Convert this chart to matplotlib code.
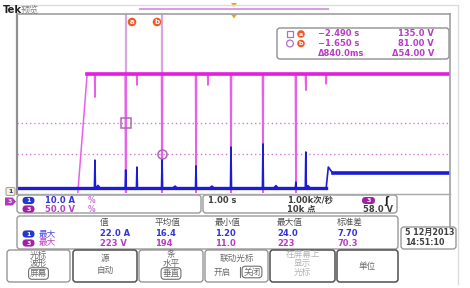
import numpy as np
import matplotlib
matplotlib.use("Agg")
import matplotlib.pyplot as plt
from matplotlib.patches import FancyBboxPatch, Rectangle, Circle, Polygon

plt.rcParams['font.family'] = ['DejaVu Sans', 'Noto Sans CJK SC']

# ---------------- data ----------------
time_span = [-5.0, 5.0]                 # s  (1.00 s/div, 10 div)
v_level = 220.0                         # ch3 high level, V
v_rise = [-3.61, -3.38]                 # ramp start / end, s
v_dip_t = [-2.49, -1.65, -0.866, -0.058, 0.68, 1.44]
v_dip_v = [0.0, 0.0, 0.0, 0.0, 0.0, 0.0]
v_glitch_t = [-3.20, -2.23, -0.59, 1.67, 2.14]
v_glitch_v = [180.0, 201.0, 201.0, 192.0, 203.0]

i_base = 1.3                            # ch1 idle current, A
i_spike_t = [-3.20, -2.49, -2.23, -1.65, -0.866, -0.058, 0.68, 1.44, 1.67]
i_spike_a = [13.8, 9.4, 10.7, 13.8, 11.2, 19.6, 21.0, 4.0, 17.4]
i_bump_t = [-3.13, -1.35, -0.50, 0.98, 1.72]
i_bump_a = [2.5, 2.2, 2.2, 2.4, 2.4]
i_step_t = 2.14
i_step_peak = 10.7
i_step_level = 8.0

cursor_t = [-2.490, -1.650]
cursor_v = [135.0, 81.00]
cursor_time_txt = ["\u22122.490 s", "\u22121.650 s", "\u0394840.0ms"]
cursor_volt_txt = ["135.0 V", "81.00 V", "\u039454.00 V"]

ch_scale = ["10.0 A", "50.0 V"]
timebase = ["1.00 s", "1.00k次/秒", "10k 点"]
trig_level = "58.0 V"
meas_header = ["值", "平均值", "最小值", "最大值", "标准差"]
meas_ch1 = ["22.0 A", "16.4", "1.20", "24.0", "7.70"]
meas_ch3 = ["223 V", "194", "11.0", "223", "70.3"]
date_txt = ["5 12月2013", "14:51:10"]

# ---------------- layout (pixels) ----------------
W, H = 470, 288
GL, GR, GT, GB = 17, 450, 14, 193
V_LIM = (13.06, 324.9)
I_LIM = (-0.89, 79.0)

MAG = '#e21ee0'
MAG_L = '#e860e8'
BLUE = '#1c1cd6'
CUR = '#d9a6e2'
TXT_M = '#b83cc8'
TXT_B = '#3434d8'
GRAY = '#9a9a9a'

fig = plt.figure(figsize=(W / 100, H / 100), dpi=100)

ax = fig.add_axes([GL / W, 1 - GB / H, (GR - GL) / W, (GB - GT) / H])
ax.set_xlim(*time_span)
ax.set_ylim(*V_LIM)
ax.axis('off')
ax.patch.set_alpha(0)
axc = ax.twinx()
axc.set_ylim(*I_LIM)
axc.axis('off')

# cursors
for t in cursor_t:
    ax.axvline(t, color=CUR, lw=1.6, zorder=1)
for v in cursor_v:
    ax.axhline(v, color='#d47ad4', lw=1.0, ls=(0, (1, 2)), zorder=1)

# ---- ch3 voltage trace ----
w = 0.012
vt = [time_span[0], v_rise[0], v_rise[1]]
vv = [0.0, 0.0, v_level]
ev = sorted(list(zip(v_dip_t, v_dip_v)) + list(zip(v_glitch_t, v_glitch_v)))
for t, val in ev:
    vt += [t - w, t, t + w]
    vv += [v_level, val, v_level]
vt.append(time_span[1]); vv.append(v_level)
ax.plot(vt, vv, color=MAG_L, lw=1.1, zorder=2)
ax.plot([v_rise[1], time_span[1]], [v_level, v_level], color=MAG, lw=2.6, zorder=2)

# ---- ch1 current trace ----
it = [time_span[0]]
ia = [i_base]
evc = [(t, a, w) for t, a in zip(i_spike_t, i_spike_a)] + \
      [(t, a, 0.05) for t, a in zip(i_bump_t, i_bump_a)]
for t, a, ww in sorted(evc):
    it += [t - ww, t, t + ww]
    ia += [i_base, a, i_base]
it += [i_step_t, i_step_t + 0.05, i_step_t + 0.15, time_span[1]]
ia += [i_base, i_step_peak, i_step_level, i_step_level]
axc.plot(it, ia, color=BLUE, lw=1.2, zorder=3)
axc.plot([time_span[0], i_step_t], [i_base, i_base], color=BLUE, lw=2.4, zorder=3)
axc.plot([i_step_t + 0.15, time_span[1]], [i_step_level, i_step_level], color=BLUE, lw=2.6, zorder=3)

# cursor markers
ax.plot([cursor_t[0]], [cursor_v[0]], marker='s', ms=6.5, mfc='none', mec='#b064b8', mew=1.1, zorder=4)
ax.plot([cursor_t[1]], [cursor_v[1]], marker='o', ms=6.5, mfc='none', mec='#b064b8', mew=1.1, zorder=4)

# ---------------- UI overlay ----------------
ui = fig.add_axes([0, 0, 1, 1])
ui.set_xlim(0, W)
ui.set_ylim(H, 0)
ui.axis('off')
ui.patch.set_alpha(0)
ui.set_zorder(5)


def rbox(x0, y0, x1, y1, ec=GRAY, lw=1.0, fc='none', r=3):
    ui.add_patch(FancyBboxPatch((x0, y0), x1 - x0, y1 - y0,
                                boxstyle=f"round,pad=0,rounding_size={r}",
                                ec=ec, fc=fc, lw=lw))


def pill(x, y, label, fc):
    ui.add_patch(FancyBboxPatch((x - 6, y - 3.6), 12, 7.2,
                                boxstyle="round,pad=0,rounding_size=3.6",
                                ec='none', fc=fc))
    ui.text(x, y + 0.3, label, fontsize=4.5, color='white', ha='center', va='center',
            fontweight='bold')


def txt(x, y, s, color='#404040', size=6, ha='left', weight='bold'):
    ui.text(x, y, s, fontsize=size, color=color, ha=ha, va='center', fontweight=weight)


# outer frame
ui.plot([6, 458, 458], [5, 5, 284], color='#dcdcdc', lw=1)

# header
txt(3, 10, "Tek", color='#202020', size=7.2)
txt(21, 10, "预览", color='#808080', size=6.5, weight='normal')
ui.plot([140, 328], [9, 9], color='#d6a0de', lw=1.5)
ui.add_patch(Polygon([[231, 3], [237, 3], [234, 7]], closed=True, fc='#f0a020', ec='none'))
ui.add_patch(Polygon([[231, 14.5], [237, 14.5], [234, 18.5]], closed=True, fc='#f0a020', ec='none'))

# graticule frame
ui.plot([GL, GL], [GT, 194], color='#909090', lw=1.6)
ui.plot([GL, GR], [GT, GT], color='#a0a0a0', lw=1.2)
ui.plot([GR, GR], [GT, 227], color='#a0a0a0', lw=1.2)
ui.plot([GL, GR], [194, 194], color='#a8a8a8', lw=1.0)

# cursor labels
for x, lab in [(132, 'a'), (157, 'b')]:
    ui.add_patch(Circle((x, 22), 4.3, fc='#f05a28', ec='none'))
    ui.text(x, 22.3, lab, fontsize=5, color='white', ha='center', va='center', fontweight='bold')

# cursor readout box
rbox(277, 28, 449, 59, ec='#909090', fc='white')
rows_y = [34, 43.5, 53]
ui.add_patch(Rectangle((286.5, 30.8), 6.5, 6.5, fc='none', ec='#b070c0', lw=0.9))
ui.add_patch(Circle((290, 43.5), 3.4, fc='none', ec='#b070c0', lw=0.9))
for y, lab in [(34, 'a'), (43.5, 'b')]:
    ui.add_patch(Circle((301, y), 3.8, fc='#f05a28', ec='none'))
    ui.text(301, y + 0.3, lab, fontsize=4.5, color='white', ha='center', va='center', fontweight='bold')
for y, s in zip(rows_y, cursor_time_txt):
    txt(318, y, s, color=TXT_M, size=6)
for y, s in zip(rows_y, cursor_volt_txt):
    txt(434, y, s, color=TXT_M, size=6, ha='right')

# channel markers on the left edge
ui.add_patch(FancyBboxPatch((6, 187.5), 9, 8, boxstyle="round,pad=0,rounding_size=1.5",
                            fc='#f4f2d8', ec='#a8a890', lw=0.8))
ui.text(10.5, 191.8, "1", fontsize=4.5, color='#2a2aa0', ha='center', va='center', fontweight='bold')
ui.add_patch(Polygon([[5, 197.5], [12.5, 197.5], [16, 201.5], [12.5, 205.5], [5, 205.5]],
                     closed=True, fc='#b03cb8', ec='none'))
ui.text(10, 201.7, "3", fontsize=4.5, color='#f8d8f8', ha='center', va='center', fontweight='bold')

# channel scale box
rbox(17, 195, 201, 213)
pill(28.5, 200.5, "1", '#2438d0')
pill(28.5, 209, "3", '#a020a8')
txt(45, 200.5, ch_scale[0], color=TXT_B)
txt(45, 209, ch_scale[1], color=TXT_M)
txt(88, 200.5, "%", color='#c878d8', size=5.5)
txt(88, 209, "%", color='#c878d8', size=5.5)

# timebase / trigger box
rbox(203, 195, 397, 213)
txt(208, 200.5, timebase[0])
txt(287, 200.5, timebase[1])
txt(287, 209.5, timebase[2])
ui.add_patch(FancyBboxPatch((362, 197), 13, 7, boxstyle="round,pad=0,rounding_size=3.5",
                            ec='none', fc='#a020a8'))
ui.text(368.5, 200.8, "3", fontsize=4.5, color='white', ha='center', va='center', fontweight='bold')
txt(384, 200.5, "ʃ", color='#202020', size=7)
txt(393, 209.5, trig_level, ha='right')

# measurement box
rbox(17, 216, 398, 249)
hx = [100, 155, 215, 277, 337]
for x, s in zip(hx, meas_header):
    txt(x, 222.5, s, color='#505050', size=6.2, weight='normal')
pill(28.5, 234, "1", '#2438d0')
pill(28.5, 243, "3", '#a020a8')
txt(39, 234, "最大", color='#4a4ae0', size=6.2, weight='normal')
txt(39, 243, "最大", color='#c040c8', size=6.2, weight='normal')
for x, s in zip(hx, meas_ch1):
    txt(x, 234, s, color=TXT_B)
for x, s in zip(hx, meas_ch3):
    txt(x, 243, s, color=TXT_M)

# date box
rbox(401, 227, 456, 249)
txt(405, 232.5, date_txt[0], color='#404040', size=5.8)
txt(405, 242.5, date_txt[1], color='#404040', size=5.8)

# menu buttons
buttons = [(7, 70), (73, 137), (139, 203), (205, 268), (270, 335), (337, 398)]
for i, (x0, x1) in enumerate(buttons):
    ec = '#505050' if i in (1, 4, 5) else '#8a8a8a'
    rbox(x0, 250, x1, 282, ec=ec, lw=1.1 if i in (1, 4, 5) else 0.9, r=3)

BT = '#6a6a6a'
NS = 6.2
def btxt(x, y, s, color=BT, boxed=False, size=NS):
    if boxed:
        ui.text(x, y, s, fontsize=size, color=color, ha='center', va='center',
                bbox=dict(boxstyle='round,pad=0.15,rounding_size=0.4', fc='none', ec='#707070', lw=0.8))
    else:
        ui.text(x, y, s, fontsize=size, color=color, ha='center', va='center')

btxt(38.5, 255, "光标")
btxt(38.5, 263.5, "波形")
btxt(38.5, 273.5, "屏幕", boxed=True)
btxt(105, 258.5, "源")
btxt(105, 270.5, "自动")
btxt(171, 255, "条")
btxt(171, 263.5, "水平")
btxt(171, 273.5, "垂直", boxed=True)
btxt(237, 258, "联动光标")
btxt(222, 272, "开启")
ui.plot([240, 240], [267, 277], color='#707070', lw=0.8)
btxt(252, 272, "关闭", boxed=True)
btxt(302.5, 255, "在屏幕上", color='#b4b4b4')
btxt(302.5, 263.5, "显示", color='#b4b4b4')
btxt(302.5, 272, "光标", color='#b4b4b4')
btxt(367.5, 266, "单位")

fig.savefig("out.png", dpi=100)
